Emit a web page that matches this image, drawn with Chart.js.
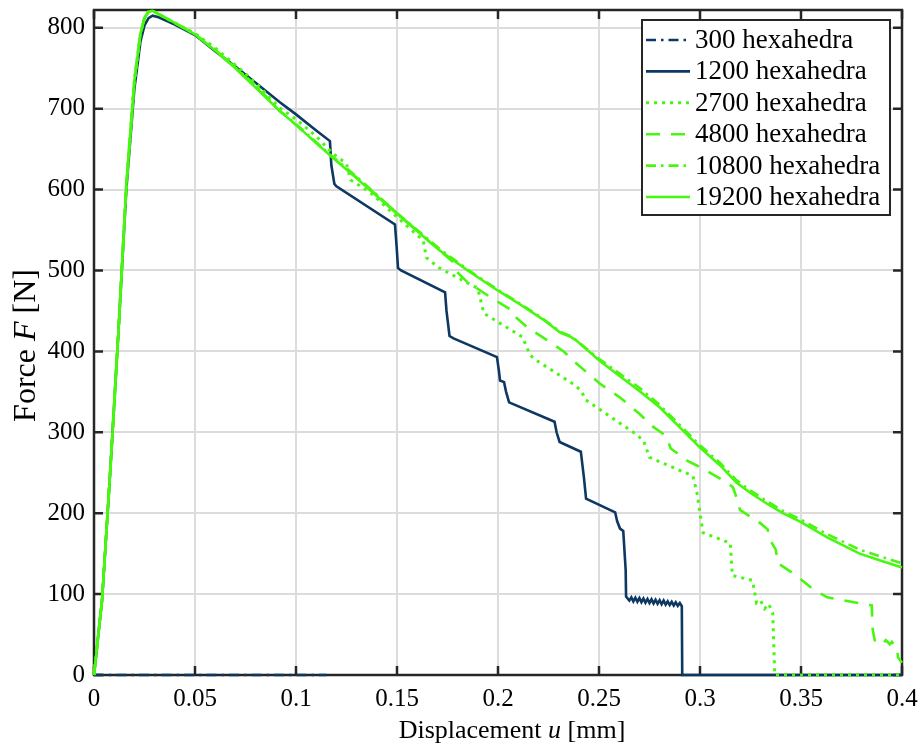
<!DOCTYPE html>
<html><head><meta charset="utf-8">
<script src="https://cdn.jsdelivr.net/npm/chart.js@4/dist/chart.umd.min.js"></script>
<style>html,body{margin:0;padding:0;background:#fff;}canvas{display:block;}</style>
</head><body>
<canvas id="c" width="922" height="749"></canvas>
<script>
// ---- data (displacement u in mm, force F in N) ----
const seriesLabels = ['300 hexahedra','1200 hexahedra','2700 hexahedra','4800 hexahedra','10800 hexahedra','19200 hexahedra'];

const u300 = [0, 0.115];
const f300 = [0, 0];

const u1200 = [0,0.004,0.008,0.012,0.016,0.02,0.023,0.025,0.027,0.029,
  0.032,0.04,0.05,0.06,0.07,0.08,0.092,0.1,0.11,0.1168,
  0.1175,0.119,0.12,0.149,0.1498,0.1505,0.152,0.1738,0.1745,0.176,
  0.178,0.1995,0.2005,0.201,0.203,0.204,0.2055,0.228,0.229,0.2305,
  0.241,0.2425,0.2436,0.258,0.259,0.2604,0.262,0.2632,0.2634,
  0.265,0.266,0.267,0.268,0.269,0.27,0.271,0.272,0.273,0.274,0.275,0.276,0.277,0.278,0.279,
  0.28,0.281,0.282,0.283,0.284,0.285,0.286,0.287,0.288,0.289,0.29,0.291,
  0.2912,0.4];
const f1200 = [0,93,250,420,600,725,783,803,812,815,
  813,804,791,771,752,732,708,693,673,660,
  630,607,604,557,530,503,500,473,450,419,
  416,393,375,364,362,350,337,313,300,288,
  276,245,218,201,190,181,178,130,97,
  92,96,91,95.5,90.5,95,90,94.5,89.5,94,89,93.5,88.5,93,88,
  92.5,87.5,92,87,91,86.5,90.5,86,90,85.5,89,85,
  0,0];

const u2700 = [0,0.004,0.008,0.012,0.016,0.02,0.023,0.025,0.027,0.029,
  0.032,0.04,0.05,0.06,0.07,0.08,0.092,0.1,0.11,0.118,
  0.125,0.127,0.137,0.15,0.163,0.1645,0.171,0.19,0.193,0.212,
  0.216,0.219,0.237,0.241,0.2435,0.267,0.272,0.275,0.2965,0.2985,
  0.3,0.3015,0.315,0.316,0.326,0.328,0.33,0.332,0.334,0.336,
  0.337,0.4];
const f2700 = [0,93,250,420,605,735,793,812,820,821,
  817,806,793,775,754,732,701,687,666,645,
  632,612,596,566,537,516,503,478,447,418,
  395,389,360,352,340,300,290,269,246,225,
  200,176,163,123,117,89,92,82,88,77,
  0,0];

const u4800 = [0,0.004,0.008,0.012,0.016,0.02,0.023,0.025,0.027,0.029,
  0.032,0.04,0.05,0.06,0.07,0.08,0.092,0.1,0.117,0.13,
  0.15,0.17,0.1775,0.179,0.1847,0.1975,0.2074,0.2085,0.2144,0.2243,
  0.2325,0.237,0.2505,0.2604,0.27,0.2767,0.2835,0.2855,0.2936,0.3,
  0.3134,0.3163,0.318,0.3198,0.3297,0.3335,0.3347,0.3375,0.3386,0.346,
  0.356,0.363,0.385,0.3855,0.3865,0.388,0.389,0.391,0.392,0.394,
  0.395,0.3965,0.3975,0.398,0.4];
const f4800 = [0,93,250,420,605,735,793,812,820,821,
  817,806,792,772,750,727,697,680,642,615,
  571,527,511,500,486,465,450,443,430,414,
  400,389,360,343,323,307,295,280,265,257,
  238,232,220,204,188,180,167,155,138,126,
  106,96,86,56,43,41,44,40,43,38,
  41,36,35,22,15];

const u10800 = [0,0.004,0.008,0.012,0.016,0.02,0.023,0.025,0.027,0.029,
  0.032,0.04,0.05,0.06,0.07,0.08,0.092,0.1,0.117,0.13,
  0.15,0.171,0.185,0.2,0.211,0.222,0.231,0.236,0.2385,0.25,
  0.26,0.27,0.28,0.29,0.3,0.31,0.318,0.325,0.333,0.341,
  0.35,0.363,0.379,0.39,0.4];
const f10800 = [0,93,250,420,605,735,793,812,820,821,
  817,806,792,773,751,729,697,681,643,616,
  571,527,501,476,459,441,424,419,414,391,
  373,355,334,309,284,262,241,228,215,203,
  192,174,155,146,138];

const u19200 = [0,0.004,0.008,0.012,0.016,0.02,0.023,0.025,0.027,0.029,
  0.032,0.04,0.05,0.06,0.07,0.08,0.092,0.1,0.117,0.13,
  0.15,0.171,0.185,0.2,0.211,0.222,0.231,0.236,0.2385,0.25,
  0.26,0.27,0.28,0.29,0.3,0.31,0.318,0.325,0.333,0.341,
  0.35,0.363,0.379,0.39,0.4];
const f19200 = [0,93,250,420,605,735,793,812,820,821,
  817,806,792,772,750,726,697,680,642,614,
  570,525,500,475,458,440,423,418,414,389,
  370,351,331,306,281,259,238,225,212,200,
  189,170,150,141,133];

const xTickValues = [0,0.05,0.1,0.15,0.2,0.25,0.3,0.35,0.4];
const xTickLabels = ['0','0.05','0.1','0.15','0.2','0.25','0.3','0.35','0.4'];
const yTickValues = [0,100,200,300,400,500,600,700,800];
const yTickLabels = ['0','100','200','300','400','500','600','700','800'];

const xTitleParts = [['Displacement ',false],['u',true],[' [mm]',false]];
const yTitleParts = [['Force ',false],['F',true],[' [N]',false]];

// ---- styling ----
const NAVY = '#0d3862';
const GREEN = '#48f710';
const FONT = '"Liberation Serif", "DejaVu Serif", serif';
const AXIS = '#262626';

function pts(u, f){ return u.map((v,i)=>({x:v, y:f[i]})); }
const styles = [
  {c:NAVY, dash:[10,5,2.5,5], w:2.6, order:6},
  {c:NAVY, dash:[], w:2.6, order:5},
  {c:GREEN, dash:[3,5], w:3, order:4},
  {c:GREEN, dash:[14,11], w:2.6, order:3},
  {c:GREEN, dash:[10,5,2.5,5], w:2.6, order:2},
  {c:GREEN, dash:[], w:2.6, order:1}
];
const allU = [u300,u1200,u2700,u4800,u10800,u19200];
const allF = [f300,f1200,f2700,f4800,f10800,f19200];
const datasets = seriesLabels.map((lab,i)=>({
  label: lab,
  data: pts(allU[i], allF[i]),
  borderColor: styles[i].c,
  backgroundColor: styles[i].c,
  borderDash: styles[i].dash,
  borderWidth: styles[i].w,
  pointRadius: 0,
  tension: 0,
  fill: false,
  clip: false,
  order: styles[i].order
}));

const framePlugin = {
  id: 'frame',
  beforeDatasetsDraw(chart){
    const {ctx, chartArea:a, scales:{x, y}} = chart;
    ctx.save();
    ctx.strokeStyle = AXIS; ctx.lineWidth = 2.5; ctx.lineCap = 'butt';
    ctx.beginPath();
    const L = 9;
    x.ticks.forEach(t=>{ const p = x.getPixelForValue(t.value);
      ctx.moveTo(p, a.bottom); ctx.lineTo(p, a.bottom - L);
      ctx.moveTo(p, a.top); ctx.lineTo(p, a.top + L); });
    y.ticks.forEach(t=>{ const p = y.getPixelForValue(t.value);
      ctx.moveTo(a.left, p); ctx.lineTo(a.left + L, p);
      ctx.moveTo(a.right, p); ctx.lineTo(a.right - L, p); });
    ctx.stroke();
    ctx.strokeRect(a.left, a.top, a.right - a.left, a.bottom - a.top);
    ctx.restore();
  }
};

function drawParts(ctx, parts, size){
  let total = 0;
  parts.forEach(([t,it])=>{ ctx.font = (it?'italic ':'') + size + 'px ' + FONT; total += ctx.measureText(t).width; });
  let x = -total/2;
  parts.forEach(([t,it])=>{ ctx.font = (it?'italic ':'') + size + 'px ' + FONT; ctx.fillText(t, x, 0); x += ctx.measureText(t).width; });
}

const titlesPlugin = {
  id: 'titles',
  afterDraw(chart){
    const {ctx, chartArea:a} = chart;
    ctx.save();
    ctx.fillStyle = '#000'; ctx.textBaseline = 'alphabetic'; ctx.textAlign = 'left';
    ctx.save();
    ctx.translate((a.left + a.right)/2 + 14, 738);
    drawParts(ctx, xTitleParts, 26);
    ctx.restore();
    ctx.save();
    ctx.translate(35, (a.top + a.bottom)/2 + 3);
    ctx.rotate(-Math.PI/2);
    drawParts(ctx, yTitleParts, 32);
    ctx.restore();
    ctx.restore();
  }
};

const legendPlugin = {
  id: 'boxLegend',
  afterDraw(chart){
    const {ctx, chartArea:a} = chart;
    const W = 248, H = 195;
    const L = a.right - 260, T = a.top + 10;
    ctx.save();
    ctx.fillStyle = '#fff';
    ctx.fillRect(L, T, W, H);
    ctx.strokeStyle = AXIS; ctx.lineWidth = 2;
    ctx.strokeRect(L, T, W, H);
    chart.data.datasets.forEach((ds, i)=>{
      const yy = T + 20 + i*31.4;
      ctx.strokeStyle = ds.borderColor; ctx.lineWidth = ds.borderWidth;
      ctx.setLineDash(ds.borderDash);
      ctx.beginPath(); ctx.moveTo(L + 4, yy); ctx.lineTo(L + 48, yy); ctx.stroke();
      ctx.setLineDash([]);
      ctx.fillStyle = '#000';
      ctx.font = '27px ' + FONT;
      ctx.textBaseline = 'middle'; ctx.textAlign = 'left';
      ctx.fillText(ds.label, L + 53, yy + 1);
    });
    ctx.restore();
  }
};

new Chart(document.getElementById('c'), {
  type: 'line',
  data: { datasets },
  options: {
    responsive: false,
    animation: false,
    devicePixelRatio: 1,
    layout: { padding: { top: 10, right: 20, left: 0, bottom: 0 } },
    plugins: { legend: { display: false }, tooltip: { enabled: false } },
    scales: {
      x: {
        type: 'linear', min: 0, max: 0.4,
        afterFit(s){ s.height = 74; s.paddingLeft = 0; s.paddingRight = 0; },
        afterBuildTicks(s){ s.ticks = xTickValues.map(v=>({value:v})); },
        ticks: { padding: 9, color: '#000', font: { family: FONT, size: 25 }, maxRotation: 0, autoSkip: false,
          callback: (v)=>{ const k = xTickValues.findIndex(t=>Math.abs(t-v)<1e-9); return k>=0 ? xTickLabels[k] : ''; } },
        grid: { color: '#dcdcdc', lineWidth: 2, drawTicks: false },
        border: { display: false },
        title: { display: false, text: 'Displacement u [mm]' }
      },
      y: {
        type: 'linear', min: 0, max: 822,
        afterFit(s){ s.width = 94; s.paddingTop = 0; s.paddingBottom = 0; },
        afterBuildTicks(s){ s.ticks = yTickValues.map(v=>({value:v})); },
        ticks: { padding: 9, color: '#000', font: { family: FONT, size: 25 }, autoSkip: false,
          callback: (v)=>{ const k = yTickValues.indexOf(v); return k>=0 ? yTickLabels[k] : ''; } },
        grid: { color: '#dcdcdc', lineWidth: 2, drawTicks: false },
        border: { display: false },
        title: { display: false, text: 'Force F [N]' }
      }
    }
  },
  plugins: [framePlugin, titlesPlugin, legendPlugin]
});
</script>
</body></html>
